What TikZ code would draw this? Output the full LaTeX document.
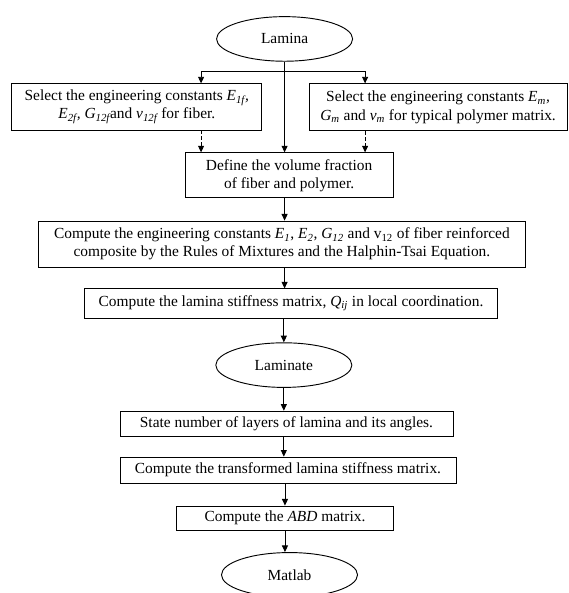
\documentclass[tikz,border=0pt]{standalone}
\usepackage{fontspec}
\setmainfont{Liberation Serif}
\usepackage{tikz}
\usetikzlibrary{positioning,arrows.meta,shapes.geometric,calc}

\begin{document}
\begin{tikzpicture}[font=\fontsize{11.6}{13.6}\selectfont, >={Triangle[length=5pt,width=4.5pt]},
  line width=0.7pt,
  box/.style={draw, rectangle, align=center, inner sep=0pt},
  oval/.style={draw, ellipse, align=center, inner sep=0pt, minimum width=3.6cm, minimum height=1.18cm},
  dotted link/.style={->, dash pattern=on 2.5pt off 2pt}]
\useasboundingbox (0,0) rectangle (15.03,-15.69);
\node[oval] (lam)   at (7.53,-1.03)  {Lamina};
\node[box, minimum width=6.61cm, minimum height=1.22cm] (fib) at (3.62,-2.83)
  {Select the engineering constants \textit{E\textsubscript{1f},}\\ \textit{E\textsubscript{2f},} \textit{G\textsubscript{12f}}and \textit{v\textsubscript{12f}} for fiber.};
\node[box, minimum width=6.83cm, minimum height=1.24cm] (mat) at (11.59,-2.84)
  {Select the engineering constants \textit{E\textsubscript{m},}\\ \textit{G\textsubscript{m}} and \textit{v\textsubscript{m}} for typical polymer matrix.};
\node[box, minimum width=5.50cm, minimum height=1.19cm] (vol) at (7.65,-4.64)
  {Define the volume fraction\\ of fiber and polymer.};
\node[box, minimum width=12.86cm, minimum height=1.22cm] (comp) at (7.46,-6.46)
  {Compute the engineering constants \textit{E\textsubscript{1}}, \textit{E\textsubscript{2}}, \textit{G\textsubscript{12}} and v\textsubscript{12} of fiber reinforced\\ composite by the Rules of Mixtures and the Halphin-Tsai Equation.};
\node[box, minimum width=10.95cm, minimum height=0.77cm] (stiff) at (7.70,-8.03)
  {Compute the lamina stiffness matrix, \textit{Q\textsubscript{ij}} in local coordination.};
\node[oval] (lamt)  at (7.51,-9.66)  {Laminate};
\node[box, minimum width=8.81cm, minimum height=0.66cm] (layers) at (7.58,-11.21)
  {State number of layers of lamina and its angles.};
\node[box, minimum width=8.89cm, minimum height=0.69cm] (trans) at (7.62,-12.44)
  {Compute the transformed lamina stiffness matrix.};
\node[box, minimum width=5.72cm, minimum height=0.64cm] (abd) at (7.54,-13.71)
  {Compute the \textit{ABD} matrix.};
\node[oval] (mlab)  at (7.66,-15.21) {Matlab};
% split below Lamina
\coordinate (bl) at (5.32,-1.88);
\coordinate (br) at (9.66,-1.88);
\draw (bl) -- (br);
\draw[->] (bl) -- (bl |- fib.north);
\draw[->] (br) -- (br |- mat.north);
\draw[->] (lam.south) -- (lam.south |- vol.north);
\draw[dotted link] (bl |- fib.south) -- (bl |- vol.north);
\draw[dotted link] (br |- mat.south) -- (br |- vol.north);
% main column
\draw[->] (vol.south -| lam.south) -- (lam.south |- comp.north);
\draw[->] (comp.south -| lam.south) -- (lam.south |- stiff.north);
\draw[->] (stiff.south -| lamt.south) -- (lamt.north);
\draw[->] (lamt.south) -- (lamt.south |- layers.north);
\draw[->] (layers.south -| lamt.south) -- (lamt.south |- trans.north);
\draw[->] (trans.south -| abd.south) -- (abd.north);
\draw[->] (abd.south) -- (abd.south |- mlab.north);
\end{tikzpicture}
\end{document}
